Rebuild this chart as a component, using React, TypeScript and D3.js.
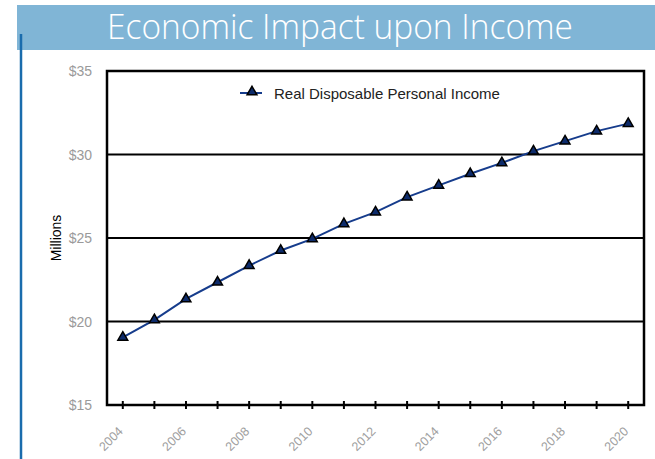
import React, { useRef, useEffect } from "react";
import * as d3 from "d3";

const years = ["2004", "2005", "2006", "2007", "2008", "2009", "2010", "2011", "2012",
  "2013", "2014", "2015", "2016", "2017", "2018", "2019", "2020"];
const income = [19.05, 20.1, 21.35, 22.35, 23.35, 24.25, 24.95, 25.85, 26.55,
  27.45, 28.15, 28.85, 29.5, 30.2, 30.8, 31.4, 31.85];
const yTicks = [15, 20, 25, 30, 35];
const yearLabels = ["2004", "2006", "2008", "2010", "2012", "2014", "2016", "2018", "2020"];

const App = () => {
  const svgRef = useRef<SVGSVGElement>(null);

  useEffect(() => {
    const svg = d3.select(svgRef.current);
    svg.selectAll("*").remove();
    const width = 655;
    const height = 459;
    const margin = { top: 71, right: 11, bottom: 54, left: 107 };
    const innerWidth = width - margin.left - margin.right;
    const innerHeight = height - margin.top - margin.bottom;

    /* title banner */
    svg.append("rect").attr("x", 17).attr("y", 5).attr("width", width - 17).attr("height", 45)
      .attr("fill", "#80b5d6");
    svg.append("line").attr("x1", 21).attr("x2", 21).attr("y1", 34).attr("y2", height)
      .attr("stroke", "#1a6cad").attr("stroke-width", 2.5);
    svg.append("text")
      .attr("x", 107).attr("y", 39)
      .attr("fill", "#ffffff")
      .style("font-family", "'Open Sans', sans-serif")
      .style("font-weight", "300")
      .style("font-size", "35px")
      .attr("textLength", 466)
      .attr("lengthAdjust", "spacingAndGlyphs")
      .text("Economic Impact upon Income");

    const x = d3.scaleBand().domain(years).range([0, innerWidth]);
    const y = d3.scaleLinear().domain([15, 35]).range([innerHeight, 0]);
    const cx = (d: string) => (x(d) as number) + x.bandwidth() / 2;

    const g = svg.append("g").attr("transform", `translate(${margin.left}, ${margin.top})`);

    /* gridlines */
    g.selectAll(".grid").data(yTicks.filter((t) => t > 15 && t < 35)).enter()
      .append("line")
      .attr("x1", 0).attr("x2", innerWidth)
      .attr("y1", (d) => y(d)).attr("y2", (d) => y(d))
      .attr("stroke", "#000").attr("stroke-width", 2);

    g.append("rect").attr("width", innerWidth).attr("height", innerHeight)
      .attr("fill", "none").attr("stroke", "#000").attr("stroke-width", 2.5);

    /* y tick labels */
    g.selectAll(".ylab").data(yTicks).enter().append("text")
      .attr("x", -15).attr("y", (d) => y(d) + 5)
      .attr("text-anchor", "end")
      .attr("fill", "#9a9a9a")
      .style("font-family", "'Liberation Sans', Arial, sans-serif")
      .style("font-size", "14px")
      .text((d) => `$${d}`);

    /* x ticks */
    g.selectAll(".xtick").data(years).enter().append("line")
      .attr("x1", cx).attr("x2", cx)
      .attr("y1", innerHeight - 4).attr("y2", innerHeight + 4)
      .attr("stroke", "#000").attr("stroke-width", 2);

    g.selectAll(".xlab").data(yearLabels).enter().append("text")
      .attr("transform", (d) => `translate(${cx(d) + 1}, ${innerHeight + 27}) rotate(-45)`)
      .attr("text-anchor", "end")
      .attr("fill", "#a0a0a0")
      .style("font-family", "'Liberation Sans', Arial, sans-serif")
      .style("font-size", "12.5px")
      .text((d) => d);

    /* y axis label */
    svg.append("text")
      .attr("transform", `translate(61, ${margin.top + innerHeight / 2}) rotate(-90)`)
      .attr("text-anchor", "middle")
      .attr("fill", "#000")
      .style("font-family", "'Liberation Sans', Arial, sans-serif")
      .style("font-size", "14px")
      .text("Millions");

    /* line */
    const line = d3.line<number>().x((d, i) => cx(years[i])).y((d) => y(d));
    g.append("path").datum(income).attr("d", line)
      .attr("fill", "none").attr("stroke", "#163c8c").attr("stroke-width", 2);

    const tri = d3.symbol().type(d3.symbolTriangle).size(42);
    g.selectAll(".pt").data(income).enter().append("path")
      .attr("d", tri)
      .attr("transform", (d, i) => `translate(${cx(years[i])}, ${y(d)})`)
      .attr("fill", "#0d2b6b").attr("stroke", "#000").attr("stroke-width", 1.5);

    /* legend */
    const lg = svg.append("g").attr("transform", "translate(240, 93)");
    lg.append("line").attr("x1", 0).attr("x2", 22).attr("y1", 0).attr("y2", 0)
      .attr("stroke", "#163c8c").attr("stroke-width", 2);
    lg.append("path").attr("d", tri).attr("transform", "translate(12, -1)")
      .attr("fill", "#0d2b6b").attr("stroke", "#000").attr("stroke-width", 1.5);
    lg.append("text").attr("x", 34).attr("y", 5.5)
      .attr("fill", "#222")
      .style("font-family", "'Liberation Sans', Arial, sans-serif")
      .style("font-size", "15px")
      .text("Real Disposable Personal Income");
  }, []);

  return (
    <svg ref={svgRef} width={655} height={459}
      style={{ position: "absolute", left: 0, top: 0, background: "#fff" }} />
  );
};

export default App;
